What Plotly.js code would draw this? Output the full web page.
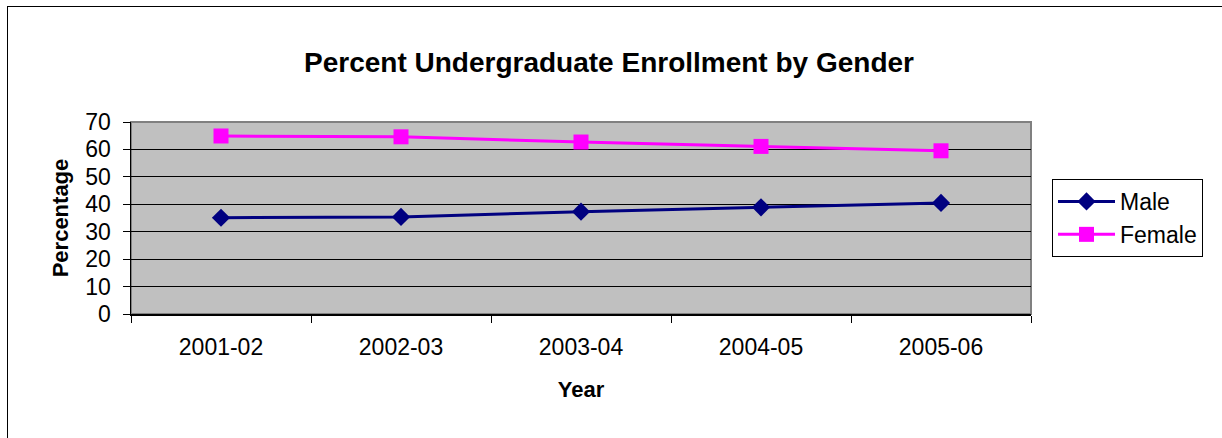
<!DOCTYPE html>
<html>
<head>
<meta charset="utf-8">
<script src="https://cdn.plot.ly/plotly-3.0.1.min.js"></script>
<style>
  html, body { margin: 0; padding: 0; overflow: hidden; background: #fff; }
  #chart { width: 1222px; height: 438px; }
  #frame { position: absolute; left: 7px; top: 6px; width: 1400px; height: 600px;
           border: 1.5px solid #000; pointer-events: none; }
</style>
</head>
<body>
<div id="chart"></div>
<div id="frame"></div>
<script>
const years = ["2001-02", "2002-03", "2003-04", "2004-05", "2005-06"];
const male = [35.1, 35.4, 37.3, 38.9, 40.5];
const female = [64.9, 64.6, 62.7, 61.1, 59.5];
const yTicks = [0, 10, 20, 30, 40, 50, 60, 70];

const FONT = "Arial, 'Liberation Sans', sans-serif";

const traces = [
  {
    type: "scatter", mode: "lines+markers", name: "Male",
    x: years, y: male,
    line: { color: "#000080", width: 3 },
    marker: { symbol: "diamond", size: 14, color: "#000080" }
  },
  {
    type: "scatter", mode: "lines+markers", name: "Female",
    x: years, y: female,
    line: { color: "#FF00FF", width: 3 },
    marker: { symbol: "square", size: 15, color: "#FF00FF" }
  }
];

const layout = {
  width: 1222, height: 438,
  margin: { l: 131, r: 191, t: 122, b: 124 },
  paper_bgcolor: "#ffffff",
  plot_bgcolor: "#C0C0C0",
  font: { family: FONT, color: "#000", size: 23 },
  title: {
    text: "<b>Percent Undergraduate Enrollment by Gender</b>",
    font: { family: FONT, size: 28, color: "#000" },
    x: 609 / 1222, xref: "container", xanchor: "center",
    y: 1 - 62 / 438, yref: "container", yanchor: "middle"
  },
  xaxis: {
    type: "category",
    categoryarray: years,
    range: [-0.5, 4.5],
    tickson: "boundaries",
    ticks: "outside", ticklen: 7, tickwidth: 1, tickcolor: "#000",
    showline: true, linecolor: "#000", linewidth: 1.5,
    showgrid: false, zeroline: false,
    tickfont: { family: FONT, size: 23, color: "#000" },
    ticklabelstandoff: 12,
    title: { text: "<b>Year</b>", font: { family: FONT, size: 22, color: "#000" }, standoff: 22 },
    fixedrange: true
  },
  yaxis: {
    range: [0, 70],
    tickvals: yTicks,
    ticktext: yTicks.map(String),
    ticks: "outside", ticklen: 7, tickwidth: 1, tickcolor: "#000",
    showline: true, linecolor: "#000", linewidth: 1.5,
    showgrid: true, gridcolor: "#000", gridwidth: 1,
    zeroline: false,
    tickfont: { family: FONT, size: 23, color: "#000" },
    ticklabelstandoff: 7,
    title: { text: "<b>Percentage</b>", font: { family: FONT, size: 22, color: "#000" }, standoff: 10 },
    fixedrange: true
  },
  legend: {
    x: 1052 / 1222, xref: "container", xanchor: "left",
    y: 1 - 179 / 438, yref: "container", yanchor: "top",
    bgcolor: "#ffffff", bordercolor: "#000", borderwidth: 1,
    font: { family: FONT, size: 23, color: "#000" },
    itemwidth: 57
  },
  shapes: [
    {
      type: "rect", xref: "paper", yref: "paper", x0: 0, x1: 1, y0: 0, y1: 1,
      line: { color: "#808080", width: 2 }, layer: "below"
    }
  ],
  showlegend: true
};

Plotly.newPlot("chart", traces, layout, { displayModeBar: false, staticPlot: true });
</script>
</body>
</html>
